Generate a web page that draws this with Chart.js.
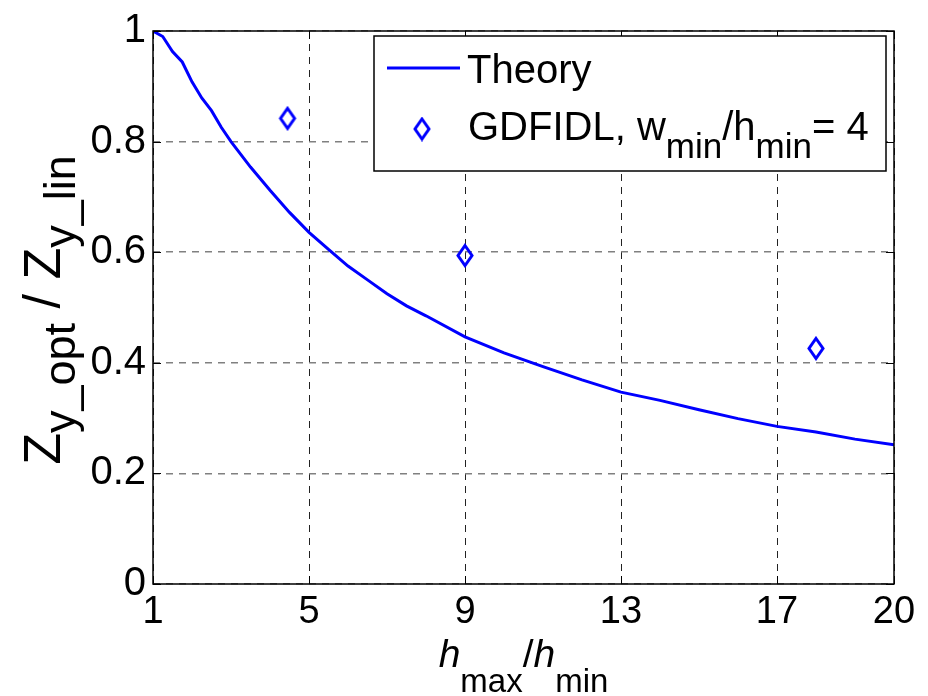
<!DOCTYPE html>
<html>
<head>
<meta charset="utf-8">
<script src="https://cdn.jsdelivr.net/npm/chart.js@4.4.1/dist/chart.umd.min.js"></script>
<style>
  body { margin: 0; background: #fff; }
  #wrap { width: 928px; height: 696px; }
</style>
</head>
<body>
<div id="wrap"><canvas id="chart-area" width="928" height="696"></canvas></div>
<script>
// theory curve, h_max/h_min vs Z ratio
var theoryX = [1, 1.25, 1.5, 1.75, 2, 2.25, 2.5, 2.75, 3, 3.5, 4, 4.5, 5, 5.5, 6, 6.5, 7, 7.5, 8, 9, 10, 11, 12, 13, 14, 15, 16, 17, 18, 19, 20];
var theoryY = [1.0, 0.99, 0.963, 0.944, 0.908, 0.879, 0.856, 0.826, 0.80, 0.754, 0.712, 0.672, 0.636, 0.605, 0.575, 0.55, 0.525, 0.503, 0.485, 0.447, 0.418, 0.393, 0.369, 0.347, 0.332, 0.315, 0.299, 0.285, 0.275, 0.262, 0.252];
// simulation points
var gdfidlX = [4.45, 9, 18];
var gdfidlY = [0.842, 0.594, 0.426];

var xTicks = [1, 5, 9, 13, 17, 20];
var yTicks = [0, 0.2, 0.4, 0.6, 0.8, 1];

var FONT = "'Liberation Sans', Arial, Helvetica, sans-serif";
var BLUE = '#0000ff';

// tall open diamond used as marker
function makeDiamond() {
    var c = document.createElement('canvas');
    c.width = 20; c.height = 25;
    var g = c.getContext('2d');
    g.strokeStyle = BLUE;
    g.lineWidth = 3;
    g.beginPath();
    g.moveTo(10, 2.5); g.lineTo(17, 12.5); g.lineTo(10, 22.5); g.lineTo(3, 12.5);
    g.closePath();
    g.stroke();
    return c;
}
var diamond = makeDiamond();

function pts(xs, ys) {
    var out = [];
    for (var i = 0; i < xs.length; i++) out.push({x: xs[i], y: ys[i]});
    return out;
}

// draws a run of pieces, some lowered as subscripts; returns end x
function drawRuns(ctx, runs, x, y) {
    for (var i = 0; i < runs.length; i++) {
        var r = runs[i];
        ctx.font = (r.italic ? 'italic ' : '') + r.size + 'px ' + FONT;
        ctx.fillText(r.t, x, y + (r.dy || 0));
        x += ctx.measureText(r.t).width;
    }
    return x;
}
function runsWidth(ctx, runs) {
    var w = 0;
    for (var i = 0; i < runs.length; i++) {
        ctx.font = (runs[i].italic ? 'italic ' : '') + runs[i].size + 'px ' + FONT;
        w += ctx.measureText(runs[i].t).width;
    }
    return w;
}

var xTitle = [
    {t: 'h', size: 39, italic: true},
    {t: 'max', size: 33, dy: 25},
    {t: '/', size: 39},
    {t: 'h', size: 39, italic: true},
    {t: 'min', size: 33, dy: 25}
];
var yTitle = [
    {t: 'Z', size: 52},
    {t: 'y_opt', size: 45, dy: 15},
    {t: ' / ', size: 52},
    {t: 'Z', size: 52},
    {t: 'y_lin', size: 45, dy: 15}
];

var framePlugin = {
    id: 'frame',
    afterDatasetsDraw: function(chart) {
        var ctx = chart.ctx, a = chart.chartArea;
        var xs = chart.scales.x, ys = chart.scales.y;
        ctx.save();
        ctx.strokeStyle = '#000';
        ctx.lineWidth = 1.5;
        ctx.strokeRect(a.left, a.top, a.right - a.left, a.bottom - a.top);
        ctx.lineWidth = 1;
        ctx.beginPath();
        xTicks.forEach(function(v) {
            var px = Math.round(xs.getPixelForValue(v)) + 0.5;
            ctx.moveTo(px, a.bottom); ctx.lineTo(px, a.bottom - 8);
            ctx.moveTo(px, a.top); ctx.lineTo(px, a.top + 8);
        });
        yTicks.forEach(function(v) {
            var py = Math.round(ys.getPixelForValue(v)) + 0.5;
            ctx.moveTo(a.left, py); ctx.lineTo(a.left + 8, py);
            ctx.moveTo(a.right, py); ctx.lineTo(a.right - 8, py);
        });
        ctx.stroke();
        ctx.restore();
    },
    afterDraw: function(chart) {
        var ctx = chart.ctx, a = chart.chartArea;
        ctx.save();
        ctx.fillStyle = '#000';
        ctx.textBaseline = 'alphabetic';

        // x axis title
        var w = runsWidth(ctx, xTitle);
        drawRuns(ctx, xTitle, (a.left + a.right) / 2 - w / 2, 667);

        // y axis title, rotated
        w = runsWidth(ctx, yTitle);
        ctx.save();
        ctx.translate(60, 310);
        ctx.rotate(-Math.PI / 2);
        drawRuns(ctx, yTitle, -w / 2, 0);
        ctx.restore();

        // legend box
        ctx.fillStyle = '#fff';
        ctx.fillRect(374, 36, 512, 135);
        ctx.strokeStyle = '#000';
        ctx.lineWidth = 1.5;
        ctx.strokeRect(374, 36, 512, 135);

        ctx.strokeStyle = BLUE;
        ctx.lineWidth = 3;
        ctx.beginPath();
        ctx.moveTo(387, 68); ctx.lineTo(460, 68);
        ctx.stroke();
        ctx.drawImage(diamond, 422 - diamond.width / 2, 129 - diamond.height / 2);

        ctx.fillStyle = '#000';
        drawRuns(ctx, [{t: 'Theory', size: 40}], 467, 83);
        drawRuns(ctx, [
            {t: 'GDFIDL, w', size: 40},
            {t: 'min', size: 35, dy: 18},
            {t: '/h', size: 40},
            {t: 'min', size: 35, dy: 18},
            {t: '= 4', size: 40}
        ], 468, 140);
        ctx.restore();
    }
};

var config = {
    type: 'scatter',
    data: {
        datasets: [{
            label: 'Theory',
            data: pts(theoryX, theoryY),
            showLine: true,
            borderColor: BLUE,
            borderWidth: 3,
            pointRadius: 0,
            tension: 0,
            fill: false
        }, {
            label: 'GDFIDL',
            data: pts(gdfidlX, gdfidlY),
            showLine: false,
            pointStyle: diamond,
            pointRadius: 10,
            borderColor: BLUE,
            backgroundColor: 'rgba(0,0,0,0)'
        }]
    },
    options: {
        responsive: false,
        animation: false,
        events: [],
        layout: {padding: {left: 0, right: 34, top: 24, bottom: 0}},
        plugins: {legend: {display: false}, tooltip: {enabled: false}},
        scales: {
            x: {
                type: 'linear', min: 1, max: 20,
                afterBuildTicks: function(s) { s.ticks = xTicks.map(function(v) { return {value: v}; }); },
                afterFit: function(s) { s.height = 112; },
                grid: {color: '#222', lineWidth: 1, drawTicks: false},
                border: {display: false, dash: [7, 6]},
                ticks: {color: '#000', padding: 6, maxRotation: 0, autoSkip: false,
                    font: {family: FONT, size: 38}}
            },
            y: {
                type: 'linear', min: 0, max: 1,
                afterBuildTicks: function(s) { s.ticks = yTicks.map(function(v) { return {value: v}; }); },
                afterFit: function(s) { s.width = 153; },
                grid: {color: '#808080', lineWidth: 1.5, drawTicks: false},
                border: {display: false, dash: [7, 6]},
                ticks: {color: '#000', padding: 7,
                    font: {family: FONT, size: 40},
                    callback: function(v) { return String(Math.round(v * 10) / 10); }}
            }
        }
    },
    plugins: [framePlugin]
};

window.onload = function() {
    var ctx = document.getElementById('chart-area').getContext('2d');
    window.myChart = new Chart(ctx, config);
};
</script>
</body>
</html>
